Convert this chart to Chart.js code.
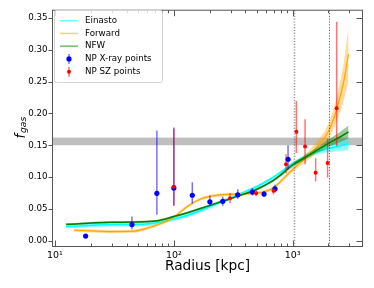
<!DOCTYPE html>
<html>
<head>
<meta charset="utf-8">
<script src="https://cdn.jsdelivr.net/npm/chart.js@4/dist/chart.umd.min.js"></script>
<style>html,body{margin:0;padding:0;background:#fff;overflow:hidden}</style>
</head>
<body>
<canvas id="myChart" width="374" height="288"></canvas>
<script>
// model curves
const radiiModel = [12.4, 15, 20, 30, 45, 70, 100, 130, 170, 220, 300, 400, 500, 650, 800, 1000, 1250, 1500, 2000, 2500, 2950]
const nfw     = [0.0258, 0.0265, 0.028, 0.029, 0.0295, 0.031, 0.038, 0.044, 0.051, 0.058, 0.066, 0.074, 0.081, 0.092, 0.104, 0.119, 0.130, 0.139, 0.153, 0.163, 0.171]
const nfwLo   = [0.0243, 0.025, 0.0265, 0.0275, 0.028, 0.0295, 0.0365, 0.0425, 0.0495, 0.0565, 0.0645, 0.0725, 0.079, 0.090, 0.1015, 0.116, 0.1265, 0.135, 0.147, 0.155, 0.161]
const nfwHi   = [0.0273, 0.028, 0.0295, 0.0305, 0.031, 0.0325, 0.0395, 0.0455, 0.0525, 0.0595, 0.0675, 0.0755, 0.083, 0.094, 0.1065, 0.122, 0.1335, 0.143, 0.159, 0.171, 0.181]
const einasto   = [0.0225, 0.023, 0.0245, 0.0255, 0.0255, 0.028, 0.034, 0.040, 0.048, 0.057, 0.067, 0.077, 0.085, 0.097, 0.108, 0.121, 0.131, 0.138, 0.145, 0.149, 0.152]
const einastoLo = [0.0195, 0.020, 0.0215, 0.0225, 0.0225, 0.025, 0.031, 0.037, 0.045, 0.054, 0.0645, 0.0745, 0.0825, 0.0945, 0.1055, 0.118, 0.1275, 0.134, 0.139, 0.141, 0.142]
const einastoHi = [0.0255, 0.026, 0.0275, 0.0285, 0.0285, 0.031, 0.037, 0.043, 0.051, 0.060, 0.0695, 0.0795, 0.0875, 0.0995, 0.1105, 0.124, 0.1345, 0.142, 0.151, 0.157, 0.162]

const radiiFwd  = [14.4, 20, 30, 45, 60, 80, 100, 130, 170, 220, 300, 400, 500, 600, 700, 800, 1000, 1250, 1500, 2000, 2350, 2700, 2950]
const forward   = [0.0165, 0.0155, 0.0145, 0.015, 0.020, 0.028, 0.037, 0.054, 0.066, 0.071, 0.073, 0.0735, 0.075, 0.078, 0.084, 0.094, 0.112, 0.128, 0.142, 0.172, 0.207, 0.252, 0.293]
const forwardLo = [0.014, 0.013, 0.012, 0.0125, 0.0175, 0.0255, 0.0345, 0.0515, 0.0635, 0.0685, 0.0705, 0.071, 0.0725, 0.0755, 0.0815, 0.091, 0.108, 0.122, 0.134, 0.160, 0.188, 0.222, 0.251]
const forwardHi = [0.019, 0.018, 0.017, 0.0175, 0.0225, 0.0305, 0.0395, 0.0565, 0.0685, 0.0735, 0.0755, 0.076, 0.0775, 0.0805, 0.0865, 0.097, 0.116, 0.134, 0.150, 0.184, 0.226, 0.282, 0.335]

// data points
const xrayR  = [18.1, 44.4, 72, 100, 143, 201, 258, 345, 458, 574, 710, 914]
const xrayF  = [0.0073, 0.0255, 0.0745, 0.083, 0.0715, 0.0612, 0.062, 0.0722, 0.0765, 0.0733, 0.0815, 0.128]
const xrayLo = [0.0068, 0.018, 0.041, 0.055, 0.0585, 0.055, 0.055, 0.066, 0.071, 0.069, 0.076, 0.112]
const xrayHi = [0.0078, 0.038, 0.173, 0.178, 0.092, 0.071, 0.069, 0.081, 0.083, 0.078, 0.088, 0.150]

const szR  = [100, 297, 492, 689, 879, 1074, 1271, 1560, 1967, 2344]
const szF  = [0.085, 0.0668, 0.0745, 0.0787, 0.120, 0.1714, 0.148, 0.107, 0.122, 0.208]
const szLo = [0.0553, 0.059, 0.070, 0.0725, 0.106, 0.138, 0.120, 0.093, 0.0994, 0.1486]
const szHi = [0.176, 0.075, 0.080, 0.085, 0.136, 0.2196, 0.191, 0.1295, 0.1605, 0.344]

const cosmicBand = [0.150, 0.162]
const radiusLines = [1020, 2030]

const yTicks = [0, 0.05, 0.10, 0.15, 0.20, 0.25, 0.30, 0.35]
const xMajor = [10, 100, 1000]
const xLabels = ['10\u00b9', '10\u00b2', '10\u00b3']
const xMinor = [20, 30, 40, 50, 60, 70, 80, 90, 200, 300, 400, 500, 600, 700, 800, 900, 2000, 3000]

const legendItems = [
  {label: 'Einasto', kind: 'line', color: 'rgba(0,255,255,0.6)'},
  {label: 'Forward', kind: 'line', color: 'rgba(255,165,0,0.5)'},
  {label: 'NFW', kind: 'line', color: 'rgba(0,128,0,0.55)'},
  {label: 'NP X-ray points', kind: 'point', color: '#0000ff', bar: 'rgba(0,0,255,0.55)', r: 2.6},
  {label: 'NP SZ points', kind: 'point', color: '#ff0000', bar: 'rgba(255,0,0,0.55)', r: 2}
]

Chart.defaults.font.family = '"DejaVu Sans", sans-serif'
Chart.defaults.color = '#000'

function pts(rs, vs) {
  return rs.map((r, i) => ({x: r, y: vs[i]}))
}
function bars(rs, lo, hi) {
  const out = []
  rs.forEach((r, i) => { out.push({x: r, y: lo[i]}, {x: r, y: hi[i]}, {x: r, y: null}) })
  return out
}
function curve(data, color, width) {
  return {type: 'line', data: data, borderColor: color, borderWidth: width, pointRadius: 0, fill: false, cubicInterpolationMode: 'monotone'}
}
function band(data, color, fillTo) {
  return {type: 'line', data: data, borderWidth: 0, borderColor: 'rgba(0,0,0,0)', backgroundColor: color, pointRadius: 0, fill: fillTo, cubicInterpolationMode: 'monotone'}
}

const datasets = [
  band(pts(radiiModel, einastoHi), 'rgba(0,255,255,0.45)', '+1'),
  band(pts(radiiModel, einastoLo), 'rgba(0,0,0,0)', false),
  curve(pts(radiiModel, einasto), '#00ffff', 1.5),
  band(pts(radiiFwd, forwardHi), 'rgba(255,165,0,0.4)', '+1'),
  band(pts(radiiFwd, forwardLo), 'rgba(0,0,0,0)', false),
  curve(pts(radiiFwd, forward), '#ffa500', 1.2),
  band(pts(radiiModel, nfwHi), 'rgba(0,128,0,0.4)', '+1'),
  band(pts(radiiModel, nfwLo), 'rgba(0,0,0,0)', false),
  curve(pts(radiiModel, nfw), '#008000', 1.5),
  {type: 'line', data: bars(xrayR, xrayLo, xrayHi), borderColor: 'rgba(0,0,255,0.55)', borderWidth: 1.5, pointRadius: 0, spanGaps: false, tension: 0},
  {type: 'line', data: bars(szR, szLo, szHi), borderColor: 'rgba(255,0,0,0.55)', borderWidth: 1.5, pointRadius: 0, spanGaps: false, tension: 0},
  {type: 'line', showLine: false, data: pts(xrayR, xrayF), backgroundColor: '#0000ff', pointRadius: 2.6, pointBorderWidth: 0},
  {type: 'line', showLine: false, data: pts(szR, szF), backgroundColor: '#ff0000', pointRadius: 2, pointBorderWidth: 0}
]
datasets.forEach((d, i) => { d.order = datasets.length - i })

const decor = {
  id: 'decor',
  beforeDatasetsDraw(chart) {
    const {ctx, chartArea: a, scales: {y}} = chart
    const y1 = y.getPixelForValue(cosmicBand[1]), y0 = y.getPixelForValue(cosmicBand[0])
    ctx.save()
    ctx.fillStyle = 'rgb(191,191,191)'
    ctx.fillRect(a.left, y1, a.right - a.left, y0 - y1)
    ctx.restore()
  },
  afterDatasetsDraw(chart) {
    const {ctx, chartArea: a, scales: {x, y}} = chart
    ctx.save()
    // dotted radius markers
    radiusLines.forEach((r, i) => {
      const px = Math.round(x.getPixelForValue(r)) + 0.5
      ctx.beginPath()
      ctx.setLineDash([1.2, 1.6])
      ctx.strokeStyle = i == 0 ? 'rgba(110,110,110,0.7)' : 'rgba(60,60,60,0.8)'
      ctx.lineWidth = i == 0 ? 1.5 : 1
      ctx.moveTo(px, a.top)
      ctx.lineTo(px, a.bottom)
      ctx.stroke()
    })
    ctx.setLineDash([])
    // spines
    ctx.strokeStyle = '#555'
    ctx.lineWidth = 1
    ctx.strokeRect(a.left, a.top, a.right - a.left, a.bottom - a.top)
    // tick marks
    ctx.beginPath()
    yTicks.forEach(v => {
      const p = Math.round(y.getPixelForValue(v)) + 0.5
      ctx.moveTo(a.left - 4, p); ctx.lineTo(a.left, p)
      ctx.moveTo(a.right - 6, p); ctx.lineTo(a.right, p)
    })
    xMajor.concat(xMinor).forEach(v => {
      const p = Math.round(x.getPixelForValue(v)) + 0.5
      const len = xMajor.includes(v) ? 6 : 3
      ctx.moveTo(p, a.top); ctx.lineTo(p, a.top + len)
      ctx.moveTo(p, a.bottom); ctx.lineTo(p, a.bottom - len)
    })
    ctx.stroke()
    ctx.restore()
  },
  afterDraw(chart) {
    const ctx = chart.ctx
    ctx.save()
    // legend
    ctx.beginPath()
    ctx.roundRect(54.5, 10.5, 108, 72, 2)
    ctx.fillStyle = 'rgba(255,255,255,0.8)'
    ctx.fill()
    ctx.strokeStyle = '#d4d4d4'
    ctx.lineWidth = 1
    ctx.stroke()
    ctx.font = '8.7px "DejaVu Sans"'
    ctx.textBaseline = 'middle'
    legendItems.forEach((it, i) => {
      const cy = 20.7 + i * 12.75
      if (it.kind == 'line') {
        ctx.beginPath()
        ctx.strokeStyle = it.color
        ctx.lineWidth = 1.5
        ctx.moveTo(60, cy); ctx.lineTo(78, cy)
        ctx.stroke()
      } else {
        ctx.beginPath()
        ctx.strokeStyle = it.bar
        ctx.lineWidth = 1.5
        ctx.moveTo(69, cy - 5); ctx.lineTo(69, cy + 5)
        ctx.stroke()
        ctx.beginPath()
        ctx.fillStyle = it.color
        ctx.arc(69, cy, it.r, 0, Math.PI * 2)
        ctx.fill()
      }
      ctx.fillStyle = '#000'
      ctx.fillText(it.label, 85, cy)
    })
    // y title: f_gas
    ctx.translate(24.5, 138.5)
    ctx.rotate(-Math.PI / 2)
    ctx.textBaseline = 'alphabetic'
    ctx.font = 'italic 13.2px "DejaVu Sans"'
    ctx.fillText('f', 0, 0)
    const w = ctx.measureText('f').width
    ctx.font = 'italic 9.2px "DejaVu Sans"'
    ctx.fillText('gas', w + 0.8, 1.8)
    ctx.restore()
  }
}

const config = {
  type: 'line',
  data: {datasets: datasets},
  options: {
    responsive: false,
    animation: false,
    devicePixelRatio: 1,
    layout: {padding: {left: 0, right: 11.5, top: 7.5, bottom: 0}},
    plugins: {legend: {display: false}, tooltip: {enabled: false}},
    scales: {
      x: {
        type: 'logarithmic',
        min: 9.53,
        max: 3867,
        afterBuildTicks: s => { s.ticks = xMajor.concat(xMinor).sort((a, b) => a - b).map(v => ({value: v})) },
        afterFit: s => { s.height = 41.5 },
        grid: {display: false, drawTicks: false},
        border: {display: false},
        ticks: {autoSkip: false, maxRotation: 0, padding: 3, font: {size: 9.5}, color: '#000',
          callback: v => { const k = xMajor.indexOf(v); return k >= 0 ? xLabels[k] : '' }},
        title: {display: true, text: 'Radius [kpc]', font: {size: 13.7}, color: '#000', padding: {top: 0, bottom: 13}}
      },
      y: {
        min: -0.009,
        max: 0.3621,
        afterBuildTicks: s => { s.ticks = yTicks.map(v => ({value: v})) },
        afterFit: s => { s.width = 52.5 },
        grid: {display: false, drawTicks: false},
        border: {display: false},
        ticks: {padding: 5, font: {size: 8.7}, color: '#000', callback: v => v.toFixed(2)}
      }
    }
  },
  plugins: [decor]
}

const chart = document.getElementById('myChart')
var myChart = new Chart(chart, config)
</script>
</body>
</html>
